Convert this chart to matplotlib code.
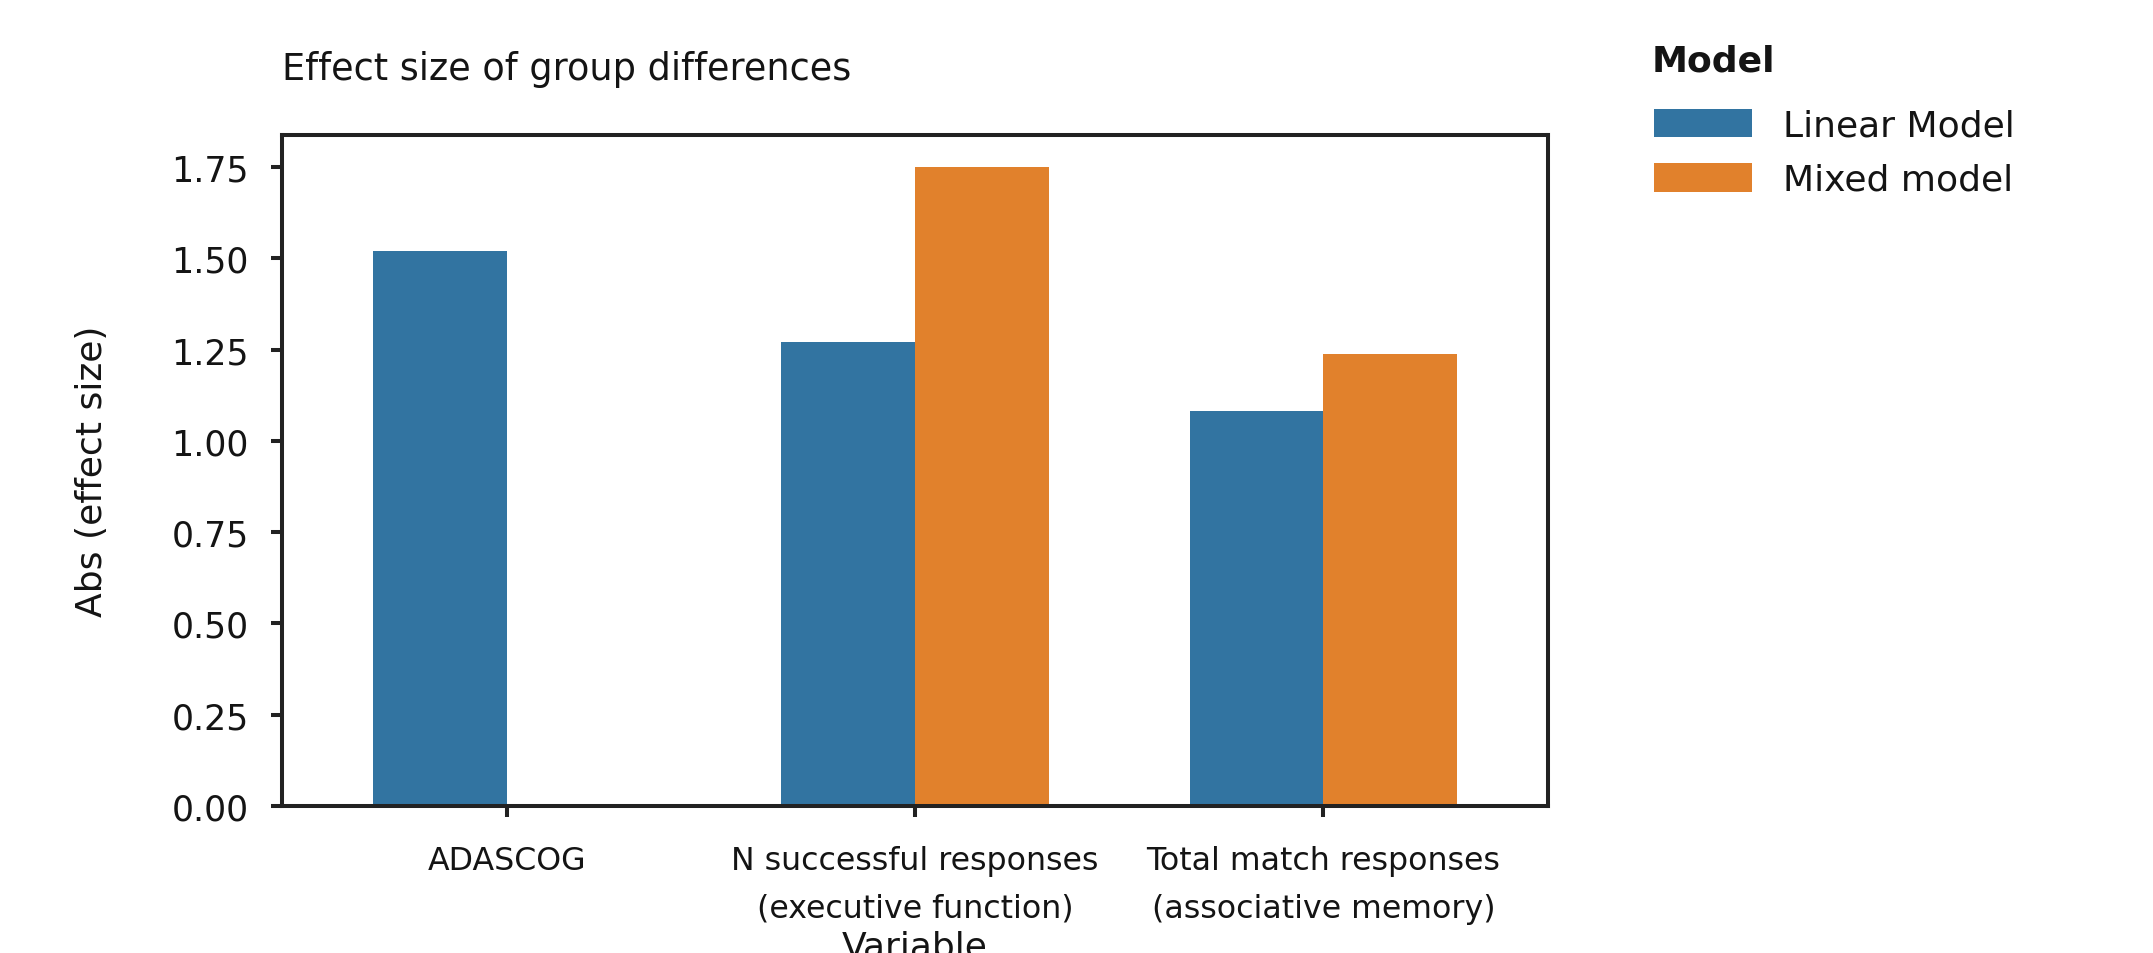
import numpy as np
import matplotlib
matplotlib.use("Agg")
import matplotlib.pyplot as plt
from matplotlib.patches import Patch

# Data
variables = ["ADASCOG",
             "N successful responses\n(executive function)",
             "Total match responses\n(associative memory)"]
models = ["Linear Model", "Mixed model"]
linear_model = [1.519, 1.272, 1.083]
mixed_model = [np.nan, 1.75, 1.239]
colors = ["#3274a1", "#e1812c"]

plt.rcParams["font.family"] = ["DejaVu Sans"]
text_color = "#141414"
plt.rcParams["text.color"] = text_color
plt.rcParams["axes.labelcolor"] = text_color
plt.rcParams["xtick.color"] = "#222222"
plt.rcParams["ytick.color"] = "#222222"
plt.rcParams["xtick.labelcolor"] = text_color
plt.rcParams["ytick.labelcolor"] = text_color

fig = plt.figure(figsize=(2153 / 200, 954 / 200), dpi=200)
ax = fig.add_axes([282 / 2153, 1 - 807 / 954, (1548 - 282) / 2153, (807 - 136) / 954])

series = [linear_model, mixed_model]
bar_w = 0.327
x = np.arange(len(variables))
for i, (vals, c) in enumerate(zip(series, colors)):
    offset = (i - (len(series) - 1) / 2) * bar_w
    ax.bar(x + offset, vals, width=bar_w, color=c, edgecolor="none", linewidth=0)

ax.set_xlim(-0.55, len(variables) - 0.45)
ax.set_ylim(0, 1.75 * 1.05)
yt = np.arange(0, 1.76, 0.25)
ax.set_yticks(yt)
ax.set_yticklabels([f"{v:.2f}" for v in yt], fontsize=12.5)
ax.set_xticks(x)
ax.set_xticklabels(variables, fontsize=11.4, linespacing=1.7)

for s in ax.spines.values():
    s.set_linewidth(1.45)
    s.set_color("#222222")
ax.tick_params(axis="both", length=4, width=1.45, pad=8)
ax.tick_params(axis="x", pad=10)

ax.set_ylabel("Abs (effect size)", fontsize=13, labelpad=22.5)
ax.set_xlabel("Variable", fontsize=13, labelpad=2)
ax.set_title("Effect size of group differences", loc="left", fontsize=13.2, pad=20)

# Legend placed to the right of the axes, title drawn separately
fig.text(1652 / 2153, 1 - 62 / 954, "Model", fontsize=13, fontweight="bold",
         ha="left", va="center")
handles = [Patch(facecolor=c, edgecolor="none") for c in colors]
fig.legend(handles, models, loc="upper left", bbox_to_anchor=(1640 / 2153, 1 - 95 / 954),
           frameon=False, fontsize=13,
           handlelength=2.7, handleheight=0.85, handletextpad=0.85,
           labelspacing=0.56, borderaxespad=0)

fig.savefig("out.png", dpi=200, facecolor="white")
